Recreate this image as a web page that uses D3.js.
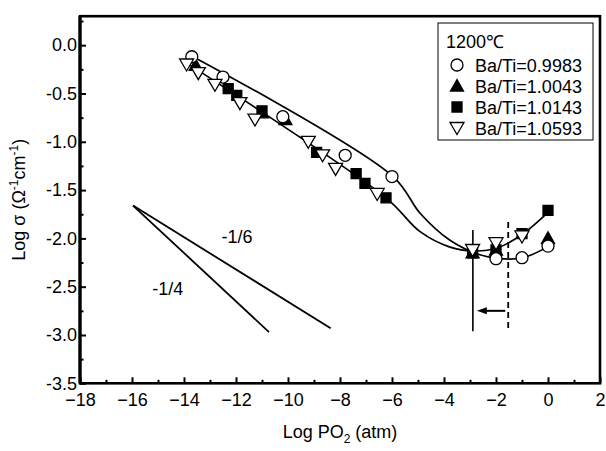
<!DOCTYPE html>
<html>
<head>
<meta charset="utf-8">
<script src="https://cdn.jsdelivr.net/npm/d3@7"></script>
<style>
  html, body { margin: 0; padding: 0; background: #fff; }
  svg { display: block; }
  text { font-family: "Liberation Sans", Arial, sans-serif; fill: #000; }
</style>
</head>
<body>
<svg id="chart" width="606" height="451"></svg>
<script>
// ---------- data ----------
const seriesNames = ["Ba/Ti=0.9983", "Ba/Ti=1.0043", "Ba/Ti=1.0143", "Ba/Ti=1.0593"];
const legendTitle = "1200\u2103";

const circleX = [-13.7, -12.5, -10.2, -7.8, -6.0, -2.0, -1.0, 0.0];
const circleY = [-0.12, -0.33, -0.74, -1.14, -1.36, -2.21, -2.20, -2.08];

const triUpX = [-13.55, -11.0, -10.1, -2.9, -2.0, 0.0];
const triUpY = [-0.21, -0.70, -0.77, -2.15, -2.12, -2.00];

const squareX = [-12.3, -11.97, -11.0, -8.9, -7.38, -7.04, -6.23, -2.9, -2.0, -1.0, 0.0];
const squareY = [-0.45, -0.52, -0.68, -1.11, -1.33, -1.43, -1.58, -2.15, -2.12, -1.95, -1.71];

const triDownX = [-13.9, -13.45, -12.81, -11.85, -11.27, -9.22, -8.67, -8.17, -6.57, -2.9, -2.0, -1.0];
const triDownY = [-0.20, -0.29, -0.41, -0.60, -0.77, -1.00, -1.14, -1.28, -1.54, -2.12, -2.05, -1.98];

// fitted guide curves
const fitUpperX = [-13.85, -5.96, -4.92, -3.77, -2.62, -1.85, -0.96, 0.04];
const fitUpperY = [-0.09, -1.36, -1.74, -2.02, -2.17, -2.21, -2.20, -2.08];
const fitLowerX = [-14.04, -6.23, -4.92, -3.77, -2.88, -1.96, -1.00, 0.04];
const fitLowerY = [-0.16, -1.58, -1.93, -2.09, -2.13, -2.10, -1.96, -1.72];

// slope reference lines
const slopeStart = [-15.96, -1.66];
const slopeSixthEnd = [-8.36, -2.93];
const slopeQuarterEnd = [-10.73, -2.97];
const slopeLabels = ["-1/6", "-1/4"];
const slopeLabelPos = [[-11.96, -2.05], [-14.62, -2.59]];

// boundary markers
const solidLineX = -2.89;
const dashedLineX = -1.53;
const boundaryY = [-1.83, -2.96];
const arrowY = -2.75;

const xTicks = [-18, -16, -14, -12, -10, -8, -6, -4, -2, 0, 2];
const xMinorTicks = [-17, -15, -13, -11, -9, -7, -5, -3, -1, 1];
const yTicks = [0.0, -0.5, -1.0, -1.5, -2.0, -2.5, -3.0, -3.5];
const yTickLabels = ["0.0", "-0.5", "-1.0", "-1.5", "-2.0", "-2.5", "-3.0", "-3.5"];
const yMinorTicks = [0.25, -0.25, -0.75, -1.25, -1.75, -2.25, -2.75, -3.25];

// ---------- drawing ----------
const svg = d3.select("#chart");
const x = d3.scaleLinear().domain([-18, 2]).range([80, 600]);
const y = d3.scaleLinear().domain([-3.5, 0.3]).range([383.3, 16.2]);
const FS = 18;

// axes
const gx = svg.append("g").attr("transform", `translate(0,${y(-3.5)})`)
  .call(d3.axisBottom(x).tickValues(xTicks).tickFormat(d3.format("d")).tickSize(-6).tickPadding(10));
const gxm = svg.append("g").attr("transform", `translate(0,${y(-3.5)})`)
  .call(d3.axisBottom(x).tickValues(xMinorTicks).tickFormat("").tickSize(-3.5));
const gy = svg.append("g").attr("transform", `translate(${x(-18)},0)`)
  .call(d3.axisLeft(y).tickValues(yTicks).tickFormat((d, i) => yTickLabels[i]).tickSize(-6).tickPadding(3));
const gym = svg.append("g").attr("transform", `translate(${x(-18)},0)`)
  .call(d3.axisLeft(y).tickValues(yMinorTicks).tickFormat("").tickSize(-3.5));
[gx, gxm, gy, gym].forEach(g => {
  g.select(".domain").remove();
  g.selectAll(".tick line").attr("stroke", "#000").attr("stroke-width", 2);
  g.selectAll("text").attr("font-size", FS).attr("fill", "#000")
    .attr("font-family", '"Liberation Sans", Arial, sans-serif');
});

// frame
svg.append("rect")
  .attr("x", x(-18)).attr("y", y(0.3))
  .attr("width", x(2) - x(-18)).attr("height", y(-3.5) - y(0.3))
  .attr("fill", "none").attr("stroke", "#000").attr("stroke-width", 2.6);
svg.append("line").attr("x1", x(-18)).attr("x2", x(-18)).attr("y1", y(0.3)).attr("y2", y(-3.5))
  .attr("stroke", "#000").attr("stroke-width", 3.2);

// axis titles
const xt = svg.append("text").attr("x", (x(-18) + x(2)) / 2).attr("y", 438)
  .attr("text-anchor", "middle").attr("font-size", FS);
xt.append("tspan").text("Log PO");
xt.append("tspan").attr("font-size", 12).attr("dy", 5).text("2");
xt.append("tspan").attr("dy", -5).text(" (atm)");

const yt = svg.append("text")
  .attr("transform", `translate(25,${(y(-3.5) + y(0.3)) / 2}) rotate(-90)`)
  .attr("text-anchor", "middle").attr("font-size", FS);
yt.append("tspan").text("Log \u03c3 (\u03a9");
yt.append("tspan").attr("font-size", 12).attr("dy", -7).text("-1");
yt.append("tspan").attr("dy", 7).text("cm");
yt.append("tspan").attr("font-size", 12).attr("dy", -7).text("-1");
yt.append("tspan").attr("dy", 7).text(")");

// fit curves
const line = d3.line().x(d => x(d[0])).y(d => y(d[1])).curve(d3.curveCatmullRom.alpha(0.5));
svg.append("path").datum(fitUpperX.map((v, i) => [v, fitUpperY[i]]))
  .attr("d", line).attr("fill", "none").attr("stroke", "#000").attr("stroke-width", 1.7);
svg.append("path").datum(fitLowerX.map((v, i) => [v, fitLowerY[i]]))
  .attr("d", line).attr("fill", "none").attr("stroke", "#000").attr("stroke-width", 1.7);

// slope lines
[slopeSixthEnd, slopeQuarterEnd].forEach(e => {
  svg.append("line")
    .attr("x1", x(slopeStart[0])).attr("y1", y(slopeStart[1]))
    .attr("x2", x(e[0])).attr("y2", y(e[1]))
    .attr("stroke", "#000").attr("stroke-width", 1.8);
});
slopeLabels.forEach((t, i) => {
  svg.append("text").attr("x", x(slopeLabelPos[i][0])).attr("y", y(slopeLabelPos[i][1]))
    .attr("text-anchor", "middle").attr("font-size", FS).text(t);
});

// boundary lines and arrow
svg.append("line").attr("x1", x(solidLineX)).attr("x2", x(solidLineX))
  .attr("y1", y(boundaryY[0]) + 8).attr("y2", y(boundaryY[1]))
  .attr("stroke", "#000").attr("stroke-width", 1.6);
svg.append("line").attr("x1", x(dashedLineX)).attr("x2", x(dashedLineX))
  .attr("y1", y(boundaryY[0])).attr("y2", y(boundaryY[1]))
  .attr("stroke", "#000").attr("stroke-width", 1.8).attr("stroke-dasharray", "6,4");
const ax1 = x(dashedLineX) - 3, ax2 = x(solidLineX) + 4, ay = y(arrowY);
svg.append("line").attr("x1", ax1).attr("x2", ax2 + 8).attr("y1", ay).attr("y2", ay)
  .attr("stroke", "#000").attr("stroke-width", 2);
svg.append("path")
  .attr("d", `M${ax2},${ay} L${ax2 + 10},${ay - 3.5} L${ax2 + 10},${ay + 3.5} Z`)
  .attr("fill", "#000");

// markers
function markerPath(type) {
  if (type === "circle") return "M6,0 A6,6 0 1,1 -6,0 A6,6 0 1,1 6,0 Z";
  if (type === "triUp") return "M0,-6.5 L6.5,5 L-6.5,5 Z";
  if (type === "square") return "M-5,-5 L5,-5 L5,5 L-5,5 Z";
  if (type === "triDown") return "M-7,-5.5 L7,-5.5 L0,6.5 Z";
}
const styles = {
  circle: { fill: "#fff", stroke: "#000" },
  triUp: { fill: "#000", stroke: "#000" },
  square: { fill: "#000", stroke: "#000" },
  triDown: { fill: "#fff", stroke: "#000" }
};
function drawSeries(xs, ys, type) {
  svg.append("g").selectAll("path").data(xs.map((v, i) => [v, ys[i]])).join("path")
    .attr("transform", d => `translate(${x(d[0])},${y(d[1])})`)
    .attr("d", markerPath(type))
    .attr("fill", styles[type].fill).attr("stroke", styles[type].stroke).attr("stroke-width", 1.3);
}
drawSeries(triUpX, triUpY, "triUp");
drawSeries(squareX, squareY, "square");
drawSeries(circleX, circleY, "circle");
drawSeries(triDownX, triDownY, "triDown");

// legend
const lg = svg.append("g");
lg.append("rect").attr("x", 438).attr("y", 23).attr("width", 155).attr("height", 117)
  .attr("fill", "#fff").attr("stroke", "#000").attr("stroke-width", 1);
lg.append("text").attr("x", 446).attr("y", 48).attr("font-size", FS).text(legendTitle);
const types = ["circle", "triUp", "square", "triDown"];
seriesNames.forEach((n, i) => {
  const cy = 65 + i * 21;
  lg.append("path").attr("transform", `translate(457,${cy})`)
    .attr("d", markerPath(types[i]))
    .attr("fill", styles[types[i]].fill).attr("stroke", "#000").attr("stroke-width", 1.3);
  lg.append("text").attr("x", 475).attr("y", cy + 6.5).attr("font-size", FS).text(n);
});
</script>
</body>
</html>
